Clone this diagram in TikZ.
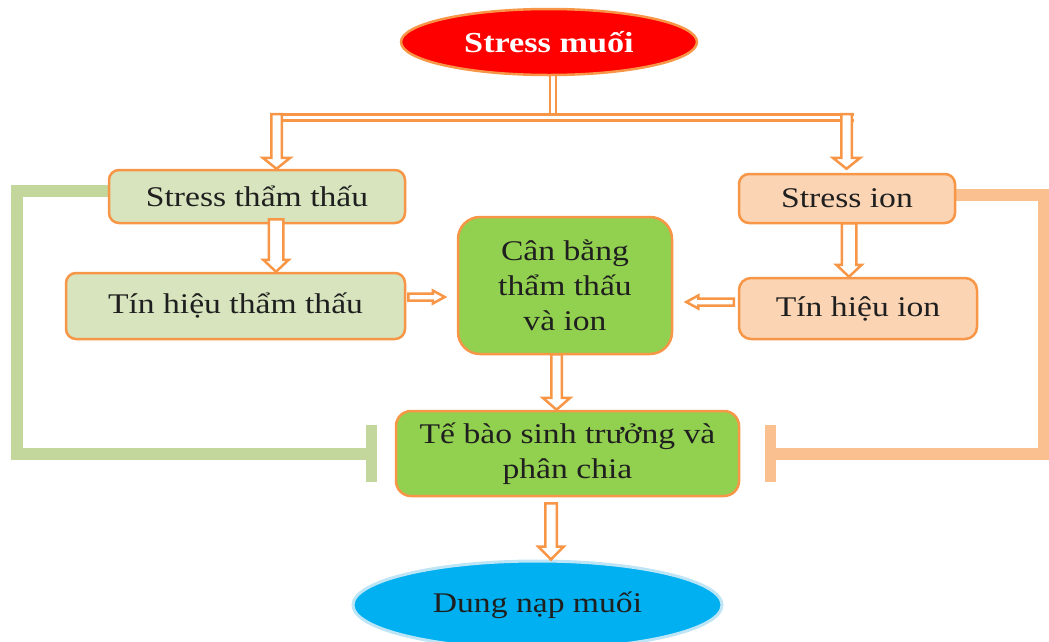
\documentclass[tikz,border=0pt]{standalone}
\usepackage{fontspec}
\setmainfont{Liberation Serif}[FakeStretch=1.18]
\usetikzlibrary{calc,shapes.geometric,backgrounds}

\definecolor{edge}{HTML}{F79646}
\definecolor{palegreen}{HTML}{D7E4BD}
\definecolor{peach}{HTML}{FBD4B4}
\definecolor{leaf}{HTML}{92D050}
\definecolor{sky}{HTML}{00B0F0}
\definecolor{skyrim}{HTML}{BDE5F6}
\definecolor{inhibgreen}{HTML}{C3D69B}
\definecolor{inhiborange}{HTML}{FAC090}
\definecolor{ink}{HTML}{1F1F1F}

% hollow block arrow from #1 to #2: shaft half width #3, head half width #4, head length #5 (pt)
\newcommand\blockarrow[5]{%
  \draw[blockarrow] let \p1=#1, \p2=#2,
      \n1={atan2(\y2-\y1,\x2-\x1)}, \n2={veclen(\x2-\x1,\y2-\y1)} in
    [shift={(\p1)}, rotate=\n1]
    (0pt,#3pt) -- ({\n2-#5pt},#3pt) -- ({\n2-#5pt},#4pt) -- ({\n2+0pt},0pt)
    -- ({\n2-#5pt},-#4pt) -- ({\n2-#5pt},-#3pt) -- (0pt,-#3pt) -- cycle;}

\begin{document}
\begin{tikzpicture}[x=1pt,y=-1pt,
  box/.style={draw=edge, line width=2.5pt, rounded corners=10pt, align=center,
    inner sep=0pt, text=ink, font=\fontsize{28.5}{35}\selectfont},
  oval/.style={ellipse, line width=2.5pt, inner sep=0pt, align=center,
    font=\fontsize{28.5}{35}\selectfont},
  blockarrow/.style={draw=edge, fill=white, line width=2.5pt, line join=miter},
  twin/.style={draw=edge, line width=2.5pt, double=white, double distance=3.5pt},
  inhibit/.style={line width=12pt, line join=miter}]

\useasboundingbox (0,0) rectangle (1049,641);

% nodes
\node[oval, fill=red, draw=edge, minimum width=296pt, minimum height=66pt,
  text=white, font=\bfseries\fontsize{29}{35}\selectfont] (top) at (549,42) {Stress muối};
\node[box, fill=palegreen, minimum width=296pt, minimum height=53pt] (stt) at (257,196.5) {Stress thẩm thấu};
\node[box, fill=palegreen, minimum width=339pt, minimum height=66pt] (tht) at (235.5,306) {Tín hiệu thẩm thấu};
\node[box, fill=leaf, rounded corners=22pt, minimum width=214pt, minimum height=137pt] (cb) at (565,285.5) {Cân bằng\\thẩm thấu\\và ion};
\node[box, fill=peach, minimum width=216pt, minimum height=49pt] (si) at (847,198.5) {Stress ion};
\node[box, fill=peach, rounded corners=12pt, minimum width=238pt, minimum height=61pt] (thi) at (858,308.5) {Tín hiệu ion};
\node[box, fill=leaf, rounded corners=15pt, minimum width=343pt, minimum height=85pt] (tb) at (567.5,453.5) {Tế bào sinh trưởng và\\phân chia};
\node[oval, fill=sky, draw=skyrim, line width=3pt, minimum width=369pt, minimum height=88pt,
  text=ink] (dn) at (537.5,605) {Dung nạp muối};

% junction points of the branching connector
\coordinate (jl) at (276.5,114);
\coordinate (jr) at (846.5,114);
\coordinate (jm) at (553,114);
% inhibition line corners and bar centres
\coordinate (gc) at (16.5,453.5);
\coordinate (gb) at ([xshift=-23pt]tb.west);
\coordinate (oc) at (1044,453.5);
\coordinate (ob) at ([xshift=30pt]tb.east);

\begin{scope}[on background layer]
  \draw[twin] (jm |- top.south) -- (jm);
  \draw[twin] ($(jl)+(-6,3.5)$) -- ($(jr)+(7,3.5)$);
  % inhibition connectors
  \draw[inhibit, draw=inhibgreen] ([xshift=5pt,yshift=5.5pt]stt.west) -| (gc) -- (gb);
  \draw[draw=inhibgreen, line width=11pt] ([yshift=28.5pt]gb) -- ([yshift=-28.5pt]gb);
  \draw[inhibit, draw=inhiborange] ([xshift=-5pt,yshift=3.5pt]si.east) -| (oc) -- (ob);
  \draw[draw=inhiborange, line width=11pt] ([yshift=28.5pt]ob) -- ([yshift=-28.5pt]ob);
\end{scope}

% block arrows
\blockarrow{(jl)}{(jl |- stt.north)}{5.25}{13.75}{11}
\blockarrow{(jr)}{($(jr |- si.north)+(0,-4)$)}{5.25}{13.75}{11}

\coordinate (a1) at ([xshift=19pt,yshift=5pt]stt.south);
\blockarrow{(a1)}{(a1 |- tht.north)}{7.25}{12.75}{12}
\coordinate (a2) at ([xshift=2pt,yshift=1pt]si.south);
\blockarrow{(a2)}{(a2 |- thi.north)}{7.25}{12.75}{12}

\coordinate (a3) at ([xshift=2pt,yshift=9pt]tht.east);
\blockarrow{(a3)}{($(a3 -| cb.west)+(-12,0)$)}{3.5}{6.5}{12}
\coordinate (a4) at ([xshift=-4pt,yshift=6.5pt]thi.west);
\blockarrow{(a4)}{($(a4 -| cb.east)+(13,0)$)}{3.5}{6.5}{12}

\coordinate (a5) at ([xshift=-8.5pt,yshift=1pt]cb.south);
\blockarrow{(a5)}{(a5 |- tb.north)}{5.25}{13.75}{12}
\coordinate (a6) at ([xshift=-16.5pt,yshift=-6pt]tb.south);
\blockarrow{(a6)}{(a6 |- dn.north)}{5.75}{12.75}{13}
\end{tikzpicture}
\end{document}
